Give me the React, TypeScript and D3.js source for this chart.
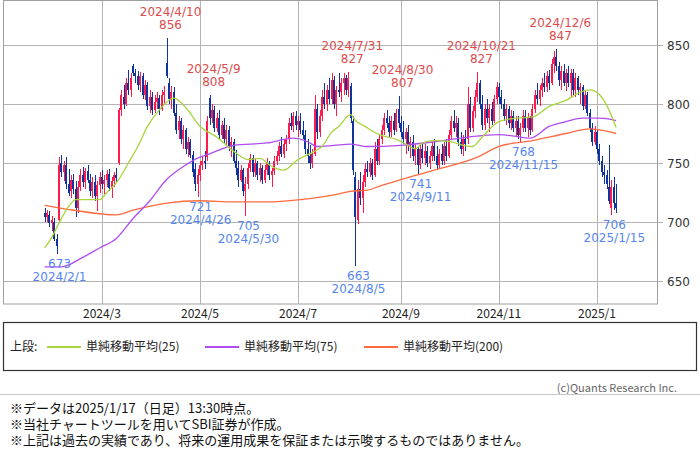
import React from 'react';
import * as d3 from 'd3';

// [open, high, low, close] per trading day, 2024/1/25 .. 2025/1/17
const candles: [number, number, number, number][] = [
  [708,712,700,704],[704,710,700,708],[706,709,696,699],[699,705,692,702],[700,703,684,686],
  [686,690,673,680],[702,755,700,748],[750,757,738,742],[742,752,735,748],[748,755,728,732],
  [732,745,722,725],[726,740,720,736],[736,741,724,728],[728,735,704,712],[712,735,708,730],
  [730,745,726,740],[740,747,730,734],[734,746,728,743],[743,748,733,736],[736,741,722,726],
  [726,738,720,734],[734,740,718,722],[722,735,709,731],[731,742,725,738],[738,744,728,732],
  [732,740,724,736],[736,744,730,741],[741,745,726,729],[729,738,720,735],[735,742,730,740],
  [740,746,733,737],[750,797,748,795],[795,812,790,808],[806,816,796,800],[800,822,798,818],
  [818,829,808,812],[812,826,806,822],[832,834,824,826],[826,830,818,824],[824,828,812,816],
  [816,827,810,824],[824,826,804,808],[808,820,803,816],[816,819,795,798],[798,812,792,806],
  [806,810,791,795],[795,808,792,802],[802,810,796,805],[805,808,791,796],[796,812,794,808],
  [808,815,800,810],[835,856,822,824],[818,822,800,804],[804,815,796,810],[810,814,790,792],
  [792,800,775,778],[778,790,770,786],[786,788,766,770],[770,782,762,778],[778,780,758,762],
  [762,772,755,768],[768,770,754,757],[757,760,738,742],[745,750,726,732],[732,745,721,740],
  [740,752,735,748],[748,756,744,752],[752,760,745,750],[755,790,752,786],[805,808,782,788],
  [788,800,784,795],[795,798,776,780],[780,792,776,788],[788,795,770,774],[774,786,770,782],
  [782,788,766,770],[770,782,764,778],[778,781,760,764],[764,772,755,768],[768,770,750,752],
  [752,761,740,746],[746,752,730,736],[736,748,734,744],[744,746,722,726],[726,738,705,732],
  [732,750,728,746],[746,758,742,754],[754,757,738,742],[742,754,738,750],[750,752,736,740],
  [740,750,734,746],[746,748,732,736],[736,748,733,744],[744,754,740,750],[750,752,736,740],
  [740,746,730,743],[743,756,740,752],[752,760,748,756],[756,768,752,764],[764,772,755,758],
  [758,770,754,766],[766,774,760,770],[770,788,766,784],[784,792,778,781],[781,793,776,790],
  [790,794,778,782],[782,790,772,786],[786,792,775,778],[778,786,770,774],[774,778,758,762],
  [762,770,750,756],[756,765,745,750],[750,762,746,758],[758,808,756,796],[796,800,770,776],
  [776,795,772,790],[790,812,786,806],[806,818,796,800],[800,816,794,812],[812,822,800,804],
  [804,826,800,820],[820,824,796,800],[800,815,790,812],[812,826,806,810],[810,822,802,818],
  [818,826,808,822],[822,825,808,812],[812,827,806,822],[815,818,784,788],[786,790,740,744],
  [738,742,663,704],[702,736,698,728],[728,742,714,720],[720,740,708,734],[734,750,730,745],
  [745,752,738,742],[742,754,738,750],[750,753,736,740],[740,768,738,762],[762,770,748,752],
  [752,774,748,770],[770,782,766,778],[778,792,774,788],[788,795,780,784],[784,790,772,776],
  [776,790,772,786],[786,792,774,778],[778,796,776,792],[796,807,780,784],[784,790,772,776],
  [776,786,766,770],[770,780,758,776],[776,782,760,764],[764,772,754,768],[768,774,752,756],
  [756,766,748,762],[762,764,741,748],[748,766,745,762],[762,768,750,754],[754,766,748,760],
  [760,764,747,750],[750,760,745,756],[756,768,752,764],[764,770,752,756],[756,764,744,748],
  [748,762,745,758],[758,766,748,752],[752,768,748,764],[764,770,752,756],[756,778,754,774],
  [774,790,770,786],[786,795,776,780],[780,790,772,784],[784,788,764,768],[768,776,758,762],
  [762,774,756,770],[770,778,760,766],[770,814,766,800],[800,806,776,780],[780,798,776,794],
  [794,812,788,806],[806,827,802,818],[818,820,796,800],[800,808,778,782],[782,800,778,796],
  [796,804,784,788],[788,800,776,796],[796,802,782,786],[786,808,784,804],[804,819,800,814],
  [814,818,800,806],[806,812,796,800],[800,804,786,790],[790,800,782,796],[796,798,780,784],
  [784,795,778,790],[790,794,776,780],[780,790,772,786],[786,790,770,774],[774,784,768,780],
  [780,795,776,790],[790,795,776,780],[780,792,772,788],[788,790,774,778],[778,800,776,796],
  [796,812,792,808],[808,818,800,804],[804,816,798,812],[812,822,806,818],[818,826,810,814],
  [814,828,810,824],[824,829,812,818],[818,838,816,834],[834,845,826,840],[840,847,828,832],
  [832,836,815,820],[820,832,812,828],[828,834,815,818],[818,830,811,826],[826,832,814,818],
  [818,830,806,826],[826,830,808,812],[812,826,806,822],[822,824,808,812],[812,818,800,814],
  [814,816,795,798],[798,812,796,808],[808,810,790,792],[792,796,776,780],[780,784,764,768],
  [768,781,765,776],[776,778,758,762],[762,766,748,752],[752,756,738,742],[742,748,732,740],
  [740,744,728,732],[730,765,715,718],[712,736,706,730],[730,738,710,716],[716,732,708,712],
];

// moving averages: [trading-day index, value]
const ma25: [number, number][] = [
  [0,678],[3,687],[6,699],[10,713],[13,719],[18,719],[23,719],[26,725],[31,736],[35,750],
  [39,764],[43,781],[48,795],[54,805],[59,797],[65,781],[72,772],[79,760],[85,753],[90,754],
  [95,747],[100,744],[106,753],[112,759],[116,764],[120,776],[123,781],[128,791],[130,786],
  [134,781],[140,774],[147,770],[152,765],[155,762],[158,767],[163,769],[170,768],[175,765],
  [179,764],[183,772],[190,785],[197,788],[204,789],[211,798],[218,803],[224,810],[228,812],
  [232,808],[236,795],[239,780],
];
const ma75: [number, number][] = [
  [0,662],[7,662],[16,670],[23,678],[30,686],[37,703],[44,718],[51,736],[58,747],[65,755],
  [68,757],[79,765],[93,767],[104,771],[110,768],[114,764],[121,765],[128,766],[135,764],
  [149,765],[163,768],[177,772],[190,774],[199,772],[203,771],[211,781],[218,785],[225,788],
  [232,788],[239,786],
];
const ma200: [number, number][] = [
  [0,714],[9,711],[23,707],[30,706],[37,710],[51,716],[65,718],[79,717],[93,717],[107,719],
  [121,723],[128,726],[135,727],[141,731],[149,736],[163,744],[181,755],[190,764],[204,769],
  [218,775],[228,779],[232,778],[239,775],
];

const yTicks = [650, 700, 750, 800, 850];
const monthTicks: { i: number; label: string }[] = [
  { i: 24, label: '2024/3' },
  { i: 65, label: '2024/5' },
  { i: 106, label: '2024/7' },
  { i: 149, label: '2024/9' },
  { i: 190, label: '2024/11' },
  { i: 231, label: '2025/1' },
];
const highMarks: { i: number; v: number; date: string }[] = [
  { i: 51, v: 856, date: '2024/4/10' },
  { i: 69, v: 808, date: '2024/5/9' },
  { i: 127, v: 827, date: '2024/7/31' },
  { i: 148, v: 807, date: '2024/8/30' },
  { i: 181, v: 827, date: '2024/10/21' },
  { i: 214, v: 847, date: '2024/12/6' },
];
const lowMarks: { i: number; v: number; date: string }[] = [
  { i: 5, v: 673, date: '2024/2/1' },
  { i: 64, v: 721, date: '2024/4/26' },
  { i: 84, v: 705, date: '2024/5/30' },
  { i: 130, v: 663, date: '2024/8/5' },
  { i: 156, v: 741, date: '2024/9/11' },
  { i: 199, v: 768, date: '2024/11/15' },
  { i: 237, v: 706, date: '2025/1/15' },
];
const legendItems = [
  { label: '単純移動平均(25)', color: '#a8d43c' },
  { label: '単純移動平均(75)', color: '#b04cf4' },
  { label: '単純移動平均(200)', color: '#ff6a40' },
];
const footer = [
  '※データは2025/1/17（日足）13:30時点。',
  '※当社チャートツールを用いてSBI証券が作成。',
  '※上記は過去の実績であり、将来の運用成果を保証または示唆するものではありません。',
];

const UP = '#ff1a4d';
const DOWN = '#10349e';
const NUM_FONT = '"DejaVu Sans", Verdana, sans-serif';
const JP_FONT = '"Noto Sans CJK JP", sans-serif';

export default function App() {
  const L = 3, R = 657, T = 0.5, B = 304;
  const x = d3.scaleLinear().domain([-17.4, 256.1]).range([L, R]);
  const y = d3.scaleLinear().domain([650, 850]).range([281, 45]);
  const line = d3
    .line<[number, number]>()
    .x((d) => x(d[0]))
    .y((d) => y(d[1]))
    .curve(d3.curveMonotoneX);
  const grid = '#b4b4b4';

  return (
    <div style={{ position: 'fixed', left: 0, top: 0 }}>
      <svg width={700} height={464} style={{ display: 'block', background: '#fff' }}>
        <defs>
          <clipPath id="plot">
            <rect x={L} y={T} width={R - L} height={B - T} />
          </clipPath>
        </defs>
        {/* grid */}
        {yTicks.map((t) => (
          <line key={'h' + t} x1={L} x2={R + 6} y1={Math.round(y(t)) + 0.5} y2={Math.round(y(t)) + 0.5} stroke={grid} />
        ))}
        {monthTicks.map((t) => (
          <line key={'v' + t.i} x1={Math.round(x(t.i)) + 0.5} x2={Math.round(x(t.i)) + 0.5} y1={T} y2={B} stroke={grid} />
        ))}
        <rect x={L + 0.5} y={T} width={R - L} height={B - T} fill="none" stroke="#a0a0a0" />

        {/* candles */}
        <g clipPath="url(#plot)" shapeRendering="crispEdges">
          {candles.map((c, i) => {
            const [o, h, l, cl] = c;
            const col = cl >= o ? UP : DOWN;
            const cx = Math.round(x(i));
            const top = y(Math.max(o, cl));
            const bot = y(Math.min(o, cl));
            return (
              <g key={i}>
                <rect x={cx} y={y(h)} width={1} height={Math.max(1, y(l) - y(h))} fill={col} />
                <rect x={cx - 1} y={top} width={2} height={Math.max(1, bot - top)} fill={col} />
              </g>
            );
          })}
        </g>

        {/* moving averages */}
        <g clipPath="url(#plot)" fill="none" strokeWidth={1.3}>
          <path d={line(ma200) || ''} stroke="#ff6a40" />
          <path d={line(ma75) || ''} stroke="#b04cf4" />
          <path d={line(ma25) || ''} stroke="#a8d43c" />
        </g>

        {/* high / low annotations */}
        <g fontFamily={NUM_FONT} fontSize={12} textAnchor="middle">
          {highMarks.map((m) => (
            <g key={'hi' + m.i} fill="#dd4b4b">
              <text x={x(m.i) + 4} y={y(m.v) - 22}>{m.date}</text>
              <text x={x(m.i) + 4} y={y(m.v) - 9}>{m.v}</text>
            </g>
          ))}
          {lowMarks.map((m) => (
            <g key={'lo' + m.i} fill="#5586ee">
              <text x={x(m.i) + 3} y={y(m.v) + 14}>{m.v}</text>
              <text x={x(m.i) + 3} y={y(m.v) + 27}>{m.date}</text>
            </g>
          ))}
        </g>

        {/* y axis labels */}
        <g fontFamily={NUM_FONT} fontSize={12} fill="#333">
          {yTicks.map((t) => (
            <text key={'yl' + t} x={667} y={y(t) + 4.5}>{t}</text>
          ))}
        </g>

        {/* x axis labels */}
        <g fontFamily={JP_FONT} fontSize={12} fill="#222" textAnchor="middle">
          {monthTicks.map((t) => (
            <text key={'xl' + t.i} x={x(t.i)} y={318}>{t.label}</text>
          ))}
        </g>

        {/* legend */}
        <rect x={3.5} y={322.5} width={693} height={48} fill="none" stroke="#333" strokeWidth={1.2} />
        <g fontFamily={JP_FONT} fontSize={12} fill="#222">
          <text x={10} y={351}>上段:</text>
          {legendItems.map((it, k) => {
            const x0 = [47, 205, 364][k];
            return (
              <g key={it.label}>
                <line x1={x0} x2={x0 + 34} y1={347} y2={347} stroke={it.color} strokeWidth={2} />
                <text x={x0 + 39} y={351}>{it.label}</text>
              </g>
            );
          })}
        </g>

        {/* copyright */}
        <text x={677} y={392} fontFamily={JP_FONT} fontSize={11} fill="#666" textAnchor="end">(c)Quants Research Inc.</text>
        <line x1={0} x2={700} y1={394.5} y2={394.5} stroke="#c8c8c8" />

        {/* footer */}
        <g fontFamily={JP_FONT} fontSize={13} fill="#111">
          {footer.map((f, k) => (
            <text key={k} x={10} y={413 + k * 16}>{f}</text>
          ))}
        </g>
      </svg>
    </div>
  );
}
